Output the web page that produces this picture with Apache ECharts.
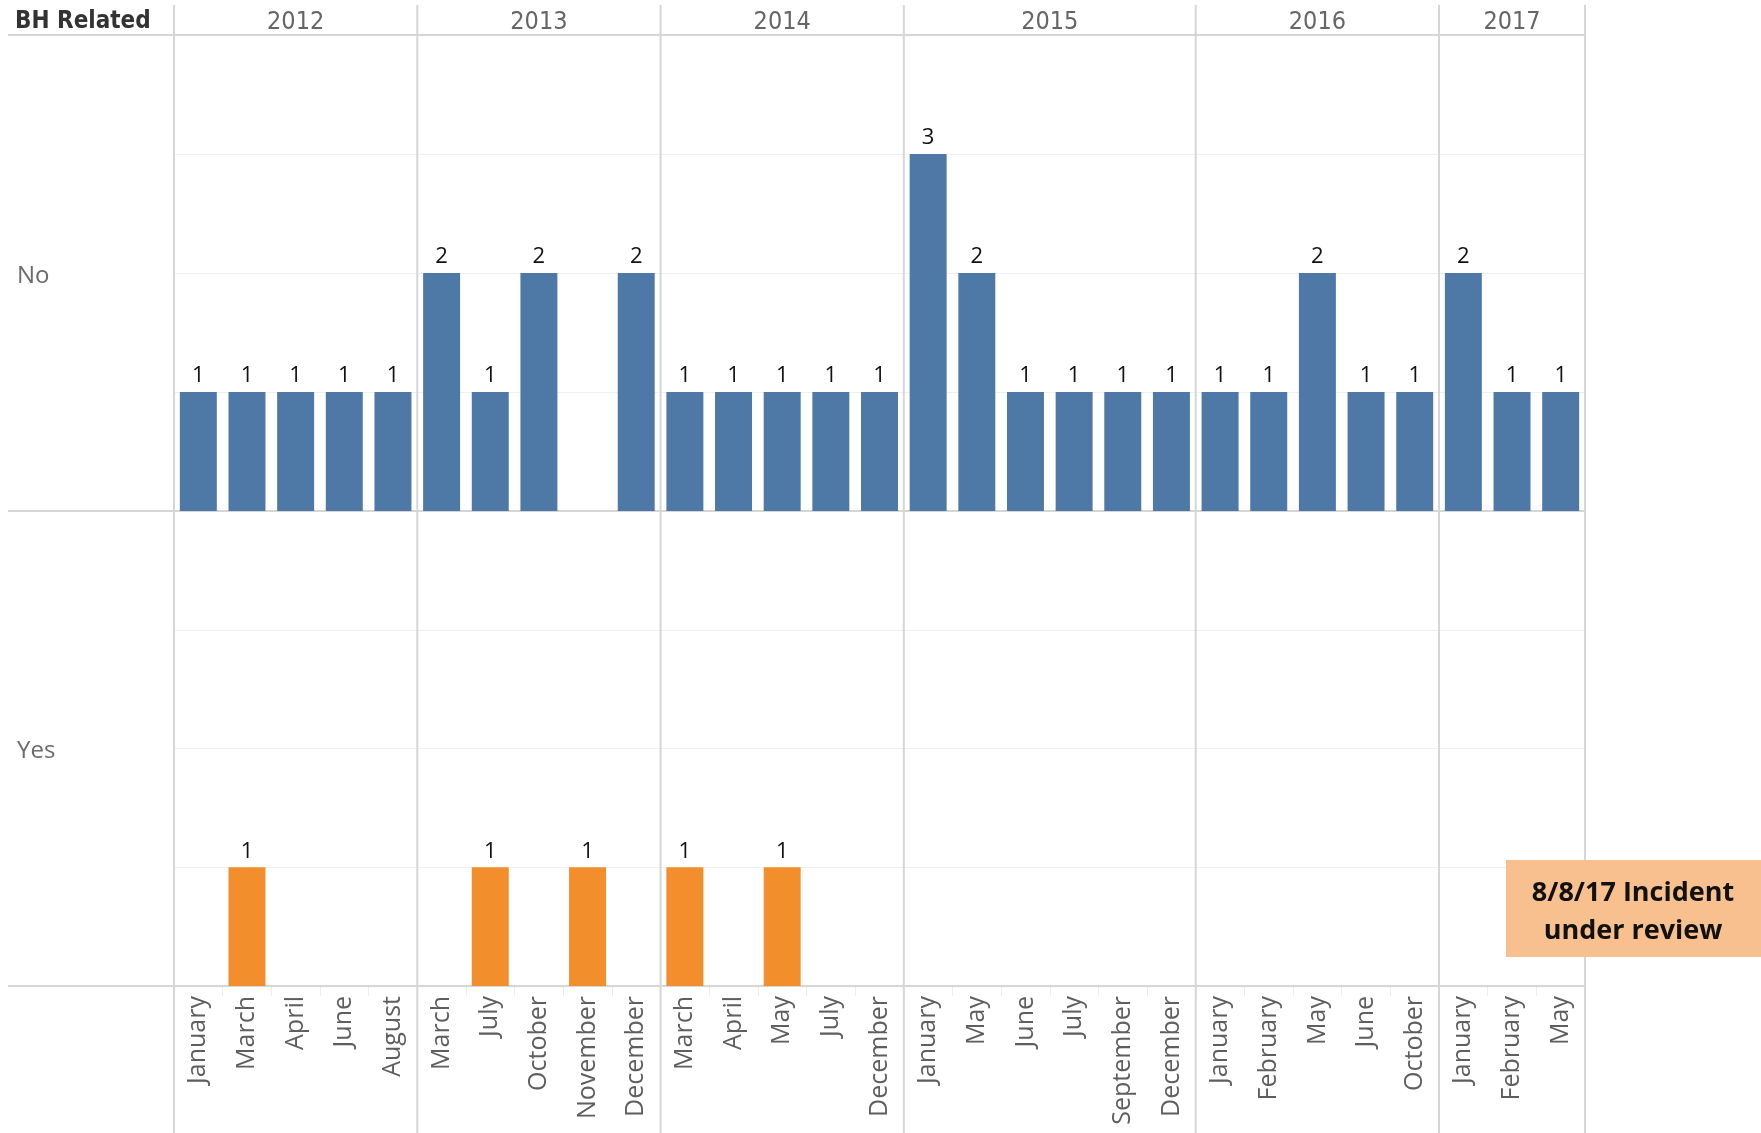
<!DOCTYPE html>
<html>
<head>
<meta charset="utf-8">
<title>BH Related</title>
<style>
  html, body { margin: 0; padding: 0; background: #fff; }
  #main { width: 1761px; height: 1133px; }
</style>
</head>
<body>
<div id="main"></div>
<script src="https://cdn.jsdelivr.net/npm/echarts@6/dist/echarts.min.js"></script>
<script>
  // data
  var years = ['2012', '2013', '2014', '2015', '2016', '2017'];
  var monthsByYear = [
    ['January', 'March', 'April', 'June', 'August'],
    ['March', 'July', 'October', 'November', 'December'],
    ['March', 'April', 'May', 'July', 'December'],
    ['January', 'May', 'June', 'July', 'September', 'December'],
    ['January', 'February', 'May', 'June', 'October'],
    ['January', 'February', 'May']
  ];
  var noCounts = [1, 1, 1, 1, 1,  2, 1, 2, null, 2,  1, 1, 1, 1, 1,  3, 2, 1, 1, 1, 1,  1, 1, 2, 1, 1,  2, 1, 1];
  var yesCounts = [null, 1, null, null, null,  null, 1, null, 1, null,  1, null, 1, null, null,
    null, null, null, null, null, null,  null, null, null, null, null,  null, null, null];
  var rowLabels = ['No', 'Yes'];
  var headerTitle = 'BH Related';
  var noteText = '8/8/17 Incident\nunder review';

  // category keys: year|month
  var categories = [];
  years.forEach(function (y, i) {
    monthsByYear[i].forEach(function (m) { categories.push(y + '|' + m); });
  });

  var GRID_LEFT = 174, GRID_W = 1411;
  var lineColor = '#d6d6d6';
  var narrowFont = '"Liberation Sans Narrow", "DejaVu Sans Condensed", sans-serif';

  var myChart = echarts.init(document.getElementById('main'));
  var option = {
    animation: false,
    textStyle: { fontFamily: '"Open Sans", sans-serif' },
    grid: [
      { left: GRID_LEFT, width: GRID_W, top: 35, height: 476 },
      { left: GRID_LEFT, width: GRID_W, top: 511, height: 475 }
    ],
    xAxis: [
      {
        type: 'category', gridIndex: 0, data: categories,
        axisLabel: { show: false }, axisTick: { show: false }, axisLine: { show: false }
      },
      {
        type: 'category', gridIndex: 1, data: categories,
        axisLine: { show: false },
        axisTick: { show: true, length: 10, interval: 0, lineStyle: { color: '#ececec' } },
        axisLabel: {
          interval: 0, rotate: 90, margin: 10, fontSize: 25, color: '#5e5e5e',
          formatter: function (v) { return v.split('|')[1]; }
        }
      }
    ],
    yAxis: [0, 1].map(function (i) {
      return {
        type: 'value', gridIndex: i, min: 0, max: 4, interval: 1,
        axisLabel: { show: false }, axisLine: { show: false }, axisTick: { show: false },
        splitLine: { lineStyle: { color: '#f0f0f0', width: 1 } }
      };
    }),
    series: [
      {
        type: 'bar', xAxisIndex: 0, yAxisIndex: 0, data: noCounts,
        barCategoryGap: '24%',
        itemStyle: { color: '#4e79a7' },
        label: { show: true, position: 'top', distance: 5, fontSize: 22, color: '#111' }
      },
      {
        type: 'bar', xAxisIndex: 1, yAxisIndex: 1, data: yesCounts,
        barCategoryGap: '24%',
        itemStyle: { color: '#f28e2b' },
        label: { show: true, position: 'top', distance: 5, fontSize: 22, color: '#111' }
      }
    ]
  };
  myChart.setOption(option);

  // frame lines, year headers and row labels placed from the axes' own scale
  var centers = categories.map(function (c) { return myChart.convertToPixel({ xAxisIndex: 0 }, c); });
  var step = centers[1] - centers[0];
  var leftX = centers[0] - step / 2;
  var rightX = centers[centers.length - 1] + step / 2;
  var topY = myChart.convertToPixel({ yAxisIndex: 0 }, 4);
  var base0 = myChart.convertToPixel({ yAxisIndex: 0 }, 0);
  var base1 = myChart.convertToPixel({ yAxisIndex: 1 }, 0);

  var elements = [];
  function vline(x) {
    elements.push({ type: 'line', shape: { x1: x, y1: 5, x2: x, y2: 1133 }, style: { stroke: lineColor, lineWidth: 2 }, z: 1 });
  }
  function hline(y) {
    elements.push({ type: 'line', shape: { x1: 8, y1: y, x2: rightX, y2: y }, style: { stroke: lineColor, lineWidth: 2 }, z: 1 });
  }
  vline(leftX);
  var idx = 0;
  years.forEach(function (y, i) {
    var n = monthsByYear[i].length;
    var gx0 = centers[idx] - step / 2;
    var gx1 = centers[idx + n - 1] + step / 2;
    elements.push({
      type: 'text', x: (gx0 + gx1) / 2, y: 22, z: 5,
      style: { text: y, fontSize: 25, fill: '#666', align: 'center', verticalAlign: 'middle', fontFamily: narrowFont }
    });
    vline(gx1);
    idx += n;
  });
  hline(topY);
  hline(base0);
  hline(base1);

  elements.push({
    type: 'text', x: 15, y: 22, z: 5,
    style: { text: headerTitle, fontSize: 24, fontWeight: 'bold', fill: '#333', align: 'left', verticalAlign: 'middle', fontFamily: narrowFont }
  });
  rowLabels.forEach(function (lab, i) {
    elements.push({
      type: 'text', x: 17, y: myChart.convertToPixel({ yAxisIndex: i }, 2) + 3, z: 5,
      style: { text: lab, fontSize: 24, fill: '#6b6b6b', align: 'left', verticalAlign: 'middle', fontFamily: '"Open Sans", sans-serif' }
    });
  });

  // annotation box
  elements.push({
    type: 'rect', shape: { x: 1506, y: 860, width: 255, height: 97 }, z: 50,
    style: { fill: '#f9c08f' }
  });
  elements.push({
    type: 'text', x: 1633, y: 912, z: 51,
    style: { text: noteText, fontSize: 27, fontWeight: 'bold', fill: '#111', align: 'center', verticalAlign: 'middle',
      lineHeight: 38, fontFamily: '"Open Sans", sans-serif' }
  });

  myChart.setOption({ graphic: { elements: elements } });
</script>
</body>
</html>
